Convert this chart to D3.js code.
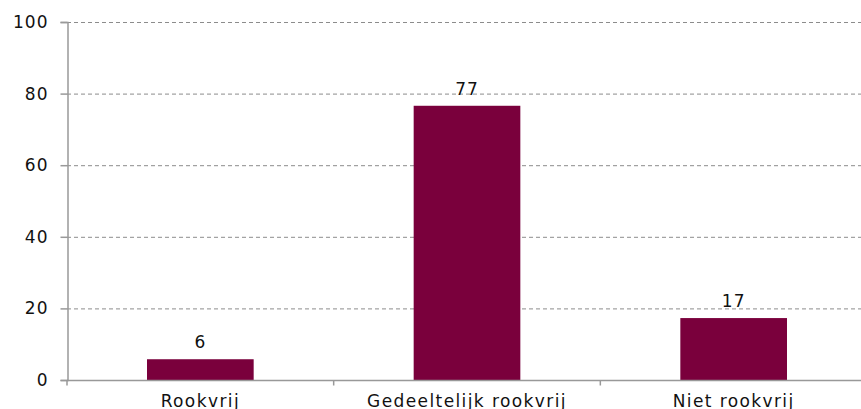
<!DOCTYPE html>
<html><head><meta charset="utf-8">
<script src="https://cdn.jsdelivr.net/npm/d3@7"></script>
<style>body{margin:0;background:#fff}svg{display:block}text{font-family:"DejaVu Sans",Verdana,sans-serif;fill:#111}</style>
</head><body><svg id="c" width="861" height="409"></svg>
<script>
const categories = ["Rookvrij","Gedeeltelijk rookvrij","Niet rookvrij"];
const values = [5.8, 76.6, 17.3];
const yTicks = [0,20,40,60,80,100];

const svg = d3.select("#c");
const m = {left:67, top:22, bottom:29};
const W = 861, H = 409, plotRight = 867;
const x = d3.scaleBand().domain(categories).range([m.left, plotRight]).paddingInner(0.6).paddingOuter(0.3);
const xb = d3.scaleBand().domain(categories).range([m.left, plotRight]).padding(0);
const y = d3.scaleLinear().domain([0,100]).range([H - m.bottom, m.top]);

// gridlines
svg.append("g").selectAll("line").data(yTicks.filter(d=>d>0)).join("line")
  .attr("x1", m.left).attr("x2", W).attr("y1", d=>y(d)+0.5).attr("y2", d=>y(d)+0.5)
  .attr("stroke","#8c8c8c").attr("stroke-dasharray","4,3").attr("stroke-width",1);

// bars
svg.append("g").selectAll("rect").data(values).join("rect")
  .attr("x",(d,i)=>x(categories[i])).attr("width",x.bandwidth())
  .attr("y",d=>y(d)).attr("height",d=>y(0)-y(d))
  .attr("fill","#7a003c");

// labels
svg.append("g").selectAll("text").data(values).join("text")
  .attr("x",(d,i)=>x(categories[i])+x.bandwidth()/2).attr("y",d=>y(d)-11)
  .attr("text-anchor","middle").attr("font-size",17).attr("letter-spacing","1px")
  .text(d=>d3.format(".0f")(d));

// y axis
const ya = svg.append("g").attr("transform",`translate(${m.left+0.5},0)`)
  .call(d3.axisLeft(y).tickValues(yTicks).tickSize(7).tickPadding(12));
ya.select(".domain").attr("stroke","#999").attr("stroke-width",1.5);
ya.selectAll(".tick line").attr("stroke","#999").attr("stroke-width",1.5);
ya.selectAll("text").attr("font-size",17).attr("letter-spacing","1px").attr("font-family","DejaVu Sans").style("fill","#111");

// x axis
const xa = svg.append("g").attr("transform",`translate(0,${y(0)+0.5})`);
xa.append("line").attr("x1",m.left).attr("x2",W).attr("stroke","#999").attr("stroke-width",1.5);
const bounds = categories.slice(1).map(c=>xb(c)).concat([m.left]);
xa.selectAll("line.t").data(bounds).join("line").attr("class","t")
  .attr("x1",d=>d).attr("x2",d=>d).attr("y1",0).attr("y2",5).attr("stroke","#999").attr("stroke-width",1.5);
xa.selectAll("text").data(categories).join("text")
  .attr("x",d=>xb(d)+xb.bandwidth()/2).attr("y",26)
  .attr("text-anchor","middle").attr("font-size",17).attr("letter-spacing","1.4px")
  .text(d=>d);
</script></body></html>
